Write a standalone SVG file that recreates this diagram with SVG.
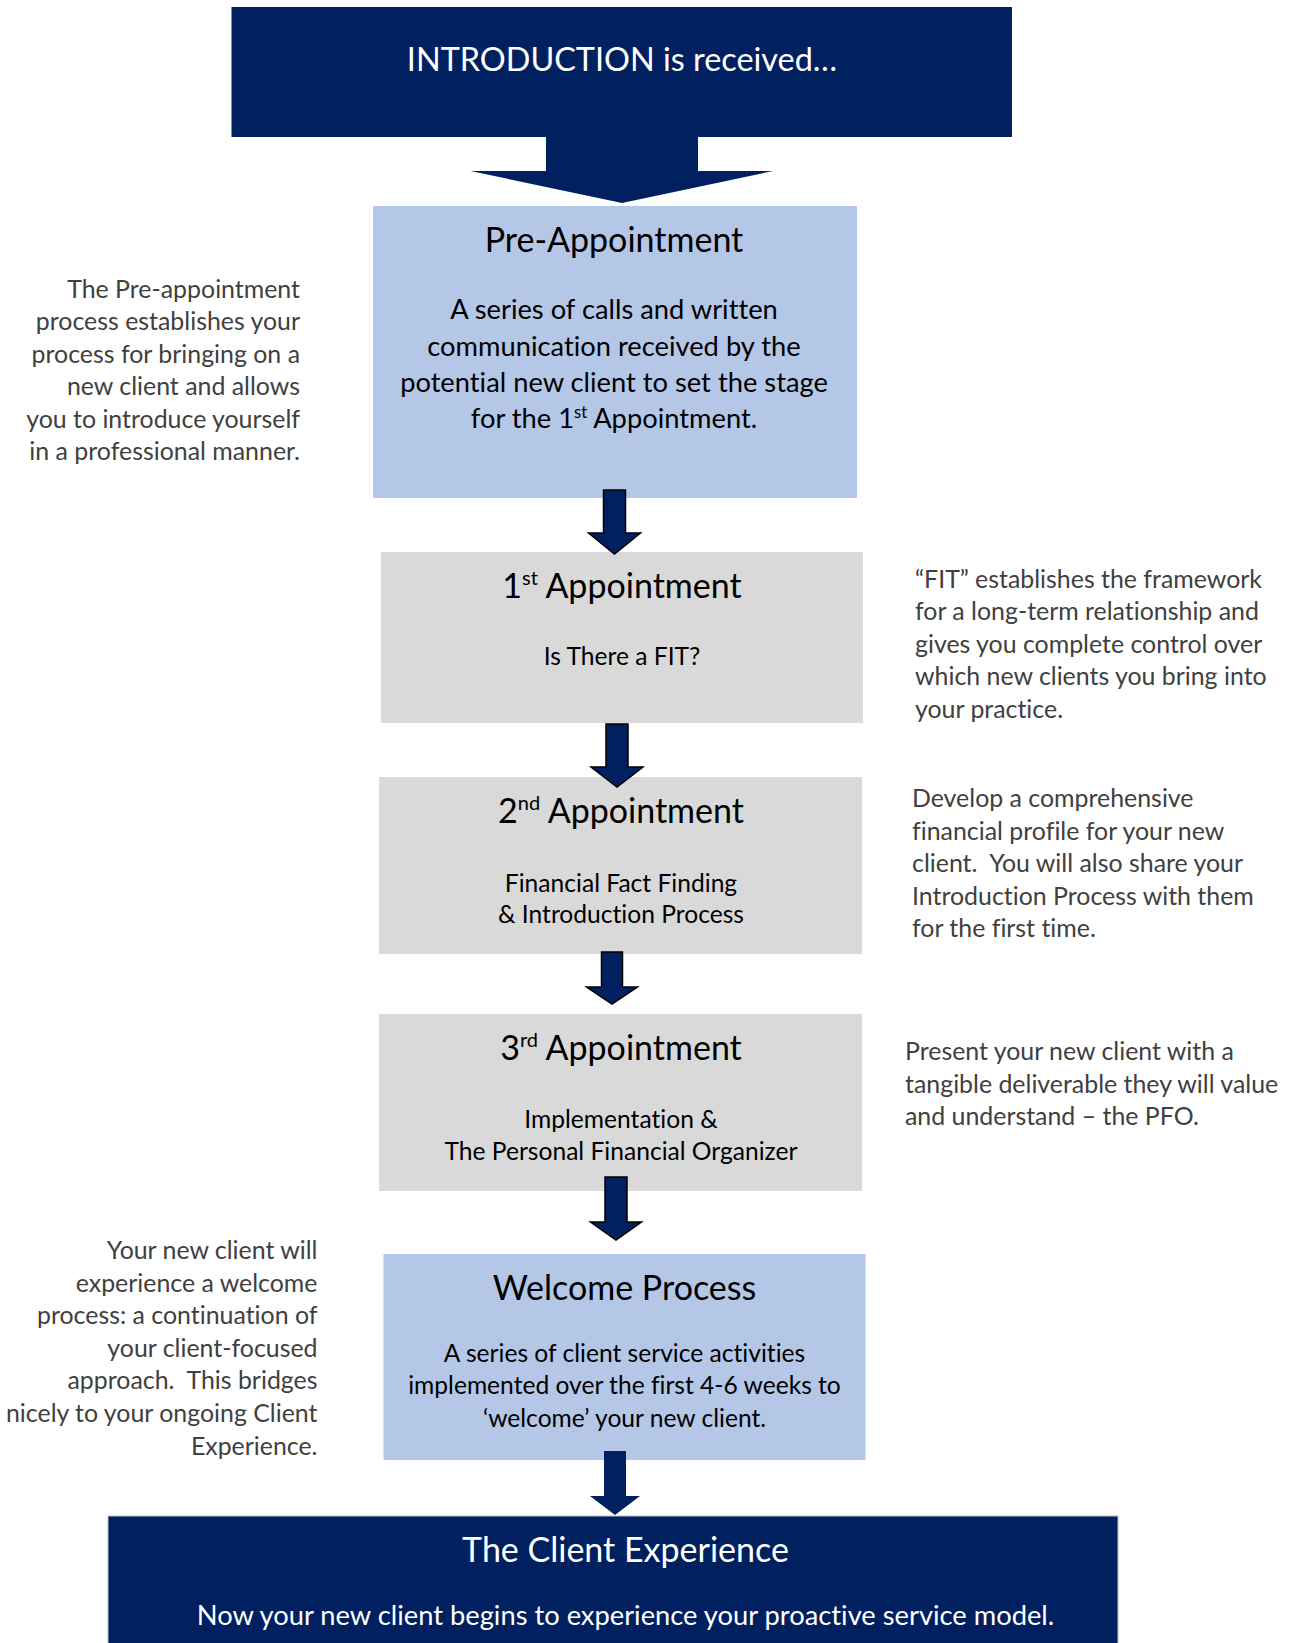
<svg xmlns="http://www.w3.org/2000/svg" width="1293" height="1643" viewBox="0 0 1293 1643">
<style>
text{font-family:Lato,"Liberation Sans",sans-serif;white-space:pre;font-variant-ligatures:none;}
.navy{fill:#002060;}
.blue{fill:#B4C7E7;}
.gray{fill:#D9D9D9;}
.wt{fill:#ffffff;text-anchor:middle;}
.title{font-size:34px;fill:#000;text-anchor:middle;}
.body{font-size:27.3px;fill:#000;text-anchor:middle;}
.sub{font-size:24.6px;fill:#000;text-anchor:middle;}
.side{font-size:24.9px;fill:#404040;}
.r{text-anchor:end;}
.l{text-anchor:start;}
.arrow{fill:#002060;stroke:#000;stroke-width:1.5;stroke-linejoin:miter;}
</style>
<rect width="1293" height="1643" fill="#ffffff"/>

<g id="intro">
<path class="navy" d="M231.5,7 H1012 V137 H698 V171 H773 L622,203 L470.5,171 H546 V137 H231.5 Z"/>
<text class="wt" x="622" y="71" font-size="32.4">INTRODUCTION is received…</text>
</g>

<g id="pre-appointment">
<rect class="blue" x="373" y="206" width="484" height="292"/>
<text class="title" x="614" y="252">Pre-Appointment</text>
<text class="body" x="614" y="319">A series of calls and written</text>
<text class="body" x="614" y="356">communication received by the</text>
<text class="body" x="614" y="392">potential new client to set the stage</text>
<text class="body" x="614" y="428">for the 1<tspan font-size="16.5" dy="-10">st</tspan><tspan dy="10"> Appointment.</tspan></text>
</g>

<g id="note-pre">
<text class="side r" x="300" y="298">The Pre-appointment</text>
<text class="side r" x="300" y="330">process establishes your</text>
<text class="side r" x="300" y="363">process for bringing on a</text>
<text class="side r" x="300" y="395">new client and allows</text>
<text class="side r" x="300" y="428">you to introduce yourself</text>
<text class="side r" x="300" y="460">in a professional manner.</text>
</g>

<g id="appointment-1">
<rect class="gray" x="381" y="552" width="482" height="171"/>
<text class="title" x="622" y="598">1<tspan font-size="20" dy="-13">st</tspan><tspan dy="13"> Appointment</tspan></text>
<text class="sub" x="622" y="665">Is There a FIT?</text>
</g>

<g id="note-1">
<text class="side l" x="915" y="588">“FIT” establishes the framework</text>
<text class="side l" x="915" y="620">for a long-term relationship and</text>
<text class="side l" x="915" y="653">gives you complete control over</text>
<text class="side l" x="915" y="685">which new clients you bring into</text>
<text class="side l" x="915" y="718">your practice.</text>
</g>

<g id="appointment-2">
<rect class="gray" x="379" y="777" width="483" height="177"/>
<text class="title" x="621" y="823">2<tspan font-size="20" dy="-13">nd</tspan><tspan dy="13"> Appointment</tspan></text>
<text class="sub" x="621" y="892">Financial Fact Finding</text>
<text class="sub" x="621" y="923">&amp; Introduction Process</text>
</g>

<g id="note-2">
<text class="side l" x="912" y="807">Develop a comprehensive</text>
<text class="side l" x="912" y="840">financial profile for your new</text>
<text class="side l" x="912" y="872">client.  You will also share your</text>
<text class="side l" x="912" y="905">Introduction Process with them</text>
<text class="side l" x="912" y="937">for the first time.</text>
</g>

<g id="appointment-3">
<rect class="gray" x="379" y="1014" width="483" height="177"/>
<text class="title" x="621" y="1060">3<tspan font-size="20" dy="-13">rd</tspan><tspan dy="13"> Appointment</tspan></text>
<text class="sub" x="621" y="1128">Implementation &amp;</text>
<text class="sub" x="621" y="1160">The Personal Financial Organizer</text>
</g>

<g id="note-3">
<text class="side l" x="905" y="1060">Present your new client with a</text>
<text class="side l" x="905" y="1093">tangible deliverable they will value</text>
<text class="side l" x="905" y="1125">and understand – the PFO.</text>
</g>

<g id="welcome">
<rect class="blue" x="383.5" y="1254" width="482" height="206"/>
<text class="title" x="624.5" y="1300">Welcome Process</text>
<text class="sub" x="624.5" y="1362">A series of client service activities</text>
<text class="sub" x="624.5" y="1394">implemented over the first 4-6 weeks to</text>
<text class="sub" x="624.5" y="1427">‘welcome’ your new client.</text>
</g>

<g id="note-welcome">
<text class="side r" x="317.5" y="1259">Your new client will</text>
<text class="side r" x="317.5" y="1292">experience a welcome</text>
<text class="side r" x="317.5" y="1324">process: a continuation of</text>
<text class="side r" x="317.5" y="1357">your client-focused</text>
<text class="side r" x="317.5" y="1389">approach.  This bridges</text>
<text class="side r" x="317.5" y="1422">nicely to your ongoing Client</text>
<text class="side r" x="317.5" y="1455">Experience.</text>
</g>

<g id="client-experience">
<rect class="navy" x="108" y="1516" width="1010" height="130" stroke="#bfbfbf" stroke-width="1"/>
<text class="wt" x="625.5" y="1562" font-size="34">The Client Experience</text>
<text class="wt" x="625.5" y="1625" font-size="27.3">Now your new client begins to experience your proactive service model.</text>
</g>

<g id="connectors">
<polygon class="arrow" points="603.5,490 625.5,490 625.5,533 640.5,533 614.5,554 588.5,533 603.5,533"/>
<polygon class="arrow" points="606,724 628,724 628,767 643,767 617,787 591,767 606,767"/>
<polygon class="arrow" points="601.5,952 622.5,952 622.5,987 637.5,987 612,1004 586.5,987 601.5,987"/>
<polygon class="arrow" points="605,1177 627,1177 627,1222 641.5,1222 616,1240 590.5,1222 605,1222"/>
<polygon class="navy" points="604,1451 626,1451 626,1496 640,1496 615,1515 590,1496 604,1496"/>
</g>
</svg>
